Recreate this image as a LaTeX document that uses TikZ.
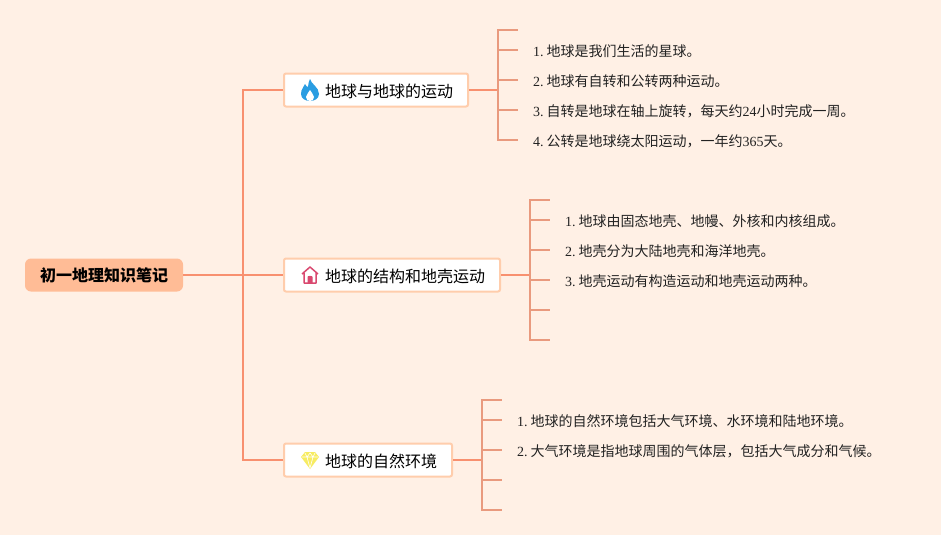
\documentclass[tikz,border=0pt]{standalone}
\usepackage{fontspec}
\setmainfont{Liberation Serif}
\newfontfamily\cjk{Noto Sans CJK SC}
\usepackage{xcolor}
\definecolor{paper}{HTML}{FFF0E5}
\definecolor{rootfill}{HTML}{FFBC96}
\definecolor{topicline}{HTML}{FFCDAC}
\definecolor{trunk}{HTML}{F8906F}
\definecolor{twig}{HTML}{E99A7E}
\definecolor{inktext}{HTML}{222222}
\definecolor{flameblue}{HTML}{2A9DE2}
\definecolor{houserose}{HTML}{D9486F}
\definecolor{gemyellow}{HTML}{F7EC62}
\newcommand{\num}[1]{\hspace*{15pt}#1\hspace{3pt}}
\tikzset{
	rootbox/.style={fill=rootfill,rounded corners=6pt,minimum width=158pt,minimum height=33pt,inner sep=0pt,font=\fontsize{16}{18}\selectfont\cjk\bfseries,text=black},
	topicbox/.style={draw=topicline,line width=2pt,fill=white,rounded corners=2pt,minimum height=33pt,inner xsep=0pt,inner ysep=0pt,text height=17pt,text depth=3pt,align=left,anchor=west,font=\fontsize{16}{18}\selectfont\cjk,text=black},
	leaf/.style={anchor=west,inner sep=0pt,text height=16pt,text depth=3pt,text=inktext,font=\fontsize{14}{16}\selectfont},
	trunkline/.style={draw=trunk,line width=2pt},
	twigline/.style={draw=twig,line width=2.2pt},
	flameicon/.pic={
		\fill[fill=flameblue] (0,-11) .. controls (1,-6) and (9,-3) .. (9,4) .. controls (9,9) and (4,11) .. (0,11) .. controls (-4,11) and (-9,9) .. (-9,4) .. controls (-9,-1) and (-6,-3) .. (-5,-6) .. controls (-4,-4) and (-3,-3) .. (-2,-3) .. controls (-2,-6) and (-1,-9) .. (0,-11) -- cycle;
		\fill[white] (0,0) .. controls (1,3) and (4,4) .. (4,7) .. controls (4,10) and (2,11) .. (0,11) .. controls (-2,11) and (-4,10) .. (-4,7) .. controls (-4,4) and (-1,3) .. (0,0) -- cycle;
	},
	houseicon/.pic={
		\draw[draw=houserose,line width=1.5pt,line join=round] (-8,-1) -- (0,-8) -- (8,-1) (-6,-2) -- (-6,8) -- (6,8) -- (6,-2);
		\fill[houserose] (-2.5,8) -- (-2.5,2) .. controls (-2.5,0.5) and (2.5,0.5) .. (2.5,2) -- (2.5,8) -- cycle;
	},
	gemicon/.pic={
		\fill[gemyellow] (-5,-8) -- (5,-8) -- (9,-3) -- (0,9) -- (-9,-3) -- cycle;
		\draw[white,line width=0.6pt,line join=round] (-8,-3) -- (8,-3) (-5,-7) -- (-3,-3) -- (0,8) -- (3,-3) -- (5,-7) (-3,-3) -- (0,-7) -- (3,-3);
	}
}
\begin{document}
\begin{tikzpicture}[x=1pt,y=-1pt]
	\fill[paper] (0,0) rectangle (941,535);
	\useasboundingbox (0,0) rectangle (941,535);
	
	% root and trunk
	\node[rootbox] (root) at (104,275) {初一地理知识笔记};
	\coordinate (bus) at (243,275);
	
	% topics
	\node[topicbox,text width=184pt] (earth) at (283,90) {\hspace*{41pt}地球与地球的运动};
	\node[topicbox,text width=216pt] (crust) at (283,275) {\hspace*{41pt}地球的结构和地壳运动};
	\node[topicbox,text width=168pt] (nature) at (283,460) {\hspace*{41pt}地球的自然环境};
	\pic at (310,90) {flameicon};
	\pic at (310,275) {houseicon};
	\pic at (310,460) {gemicon};
	
	% earth leaves
	\coordinate (earthfork) at (498,90);
	\coordinate (earth0) at (518,30);
	\node[leaf] (earth1) at (518,50) {\num{1.}{\cjk 地球是我们生活的星球。}};
	\node[leaf] (earth2) at (518,80) {\num{2.}{\cjk 地球有自转和公转两种运动。}};
	\node[leaf] (earth3) at (518,110) {\num{3.}{\cjk 自转是地球在轴上旋转，每天约}24{\cjk 小时完成一周。}};
	\node[leaf] (earth4) at (518,140) {\num{4.}{\cjk 公转是地球绕太阳运动，一年约}365{\cjk 天。}};
	
	% crust leaves
	\coordinate (crustfork) at (530,275);
	\coordinate (crust0) at (550,200);
	\node[leaf] (crust1) at (550,220) {\num{1.}{\cjk 地球由固态地壳、地幔、外核和内核组成。}};
	\node[leaf] (crust2) at (550,250) {\num{2.}{\cjk 地壳分为大陆地壳和海洋地壳。}};
	\node[leaf] (crust3) at (550,280) {\num{3.}{\cjk 地壳运动有构造运动和地壳运动两种。}};
	\coordinate (crust4) at (550,310);
	\coordinate (crust5) at (550,340);
	
	% nature leaves
	\coordinate (naturefork) at (482,460);
	\coordinate (nature0) at (502,400);
	\node[leaf] (nature1) at (502,420) {\num{1.}{\cjk 地球的自然环境包括大气环境、水环境和陆地环境。}};
	\node[leaf] (nature2) at (502,450) {\num{2.}{\cjk 大气环境是指地球周围的气体层，包括大气成分和气候。}};
	\coordinate (nature3) at (502,480);
	\coordinate (nature4) at (502,510);
	
	% connectors
	\draw[trunkline] (root) -- (bus);
	\draw[trunkline] (bus) |- (earth.west);
	\draw[trunkline] (bus) -- (crust.west);
	\draw[trunkline] (bus) |- (nature.west);
	\draw[trunkline] (earth.east) -- (earthfork);
	\draw[trunkline] (crust.east) -- (crustfork);
	\draw[trunkline] (nature.east) -- (naturefork);
	\foreach \i in {earth0,earth1,earth2,earth3,earth4}
		\draw[twigline] (earthfork) |- (\i);
	\foreach \i in {crust0,crust1,crust2,crust3,crust4,crust5}
		\draw[twigline] (crustfork) |- (\i);
	\foreach \i in {nature0,nature1,nature2,nature3,nature4}
		\draw[twigline] (naturefork) |- (\i);
\end{tikzpicture}
\end{document}
